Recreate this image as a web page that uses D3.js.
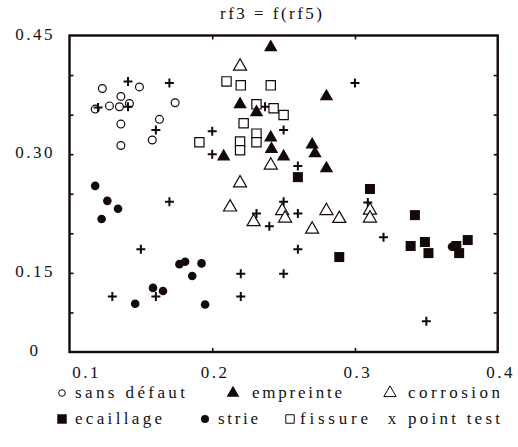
<!DOCTYPE html>
<html>
<head>
<meta charset="utf-8">
<script src="https://cdn.jsdelivr.net/npm/d3@7"></script>
<style>
  html, body { margin: 0; padding: 0; background: #fff; }
  svg text { font-family: "Liberation Serif", "DejaVu Serif", serif; fill: #111; }
</style>
</head>
<body>
<svg id="chart" width="518" height="447"></svg>
<script>
// ---- data ----
const title = "rf3 = f(rf5)";
const xTickValues = [0.1, 0.2, 0.3, 0.4];
const xTickLabels = ["0.1", "0.2", "0.3", "0.4"];
const yTickValues = [0.05, 0.15, 0.30, 0.45];
const yTickLabels = ["0", "0.15", "0.30", "0.45"];

const sansDefautX = [0.123, 0.149, 0.136, 0.142, 0.118, 0.128, 0.135, 0.174, 0.136, 0.163, 0.158, 0.136];
const sansDefautY = [0.383, 0.385, 0.373, 0.364, 0.357, 0.361, 0.360, 0.365, 0.338, 0.344, 0.318, 0.311];

const empreinteX = [0.241, 0.2195, 0.231, 0.241, 0.2415, 0.250, 0.208, 0.280, 0.270, 0.272, 0.280];
const empreinteY = [0.435, 0.363, 0.353, 0.321, 0.3065, 0.297, 0.297, 0.373, 0.312, 0.301, 0.282];

const corrosionX = [0.2195, 0.241, 0.2195, 0.2125, 0.229, 0.249, 0.251, 0.280, 0.289, 0.270, 0.3105, 0.3105];
const corrosionY = [0.411, 0.286, 0.2635, 0.233, 0.2145, 0.2285, 0.219, 0.2285, 0.2185, 0.205, 0.229, 0.219];

const ecaillageX = [0.260, 0.3105, 0.342, 0.339, 0.349, 0.3515, 0.371, 0.373, 0.379, 0.289];
const ecaillageY = [0.271, 0.256, 0.223, 0.184, 0.189, 0.175, 0.184, 0.175, 0.1915, 0.170];

const strieX = [0.118, 0.1265, 0.134, 0.1225, 0.177, 0.181, 0.1925, 0.186, 0.1585, 0.1655, 0.146, 0.195, 0.368];
const strieY = [0.260, 0.241, 0.231, 0.218, 0.161, 0.164, 0.162, 0.146, 0.131, 0.127, 0.111, 0.110, 0.183];

const fissureX = [0.210, 0.220, 0.241, 0.231, 0.243, 0.250, 0.222, 0.191, 0.2195, 0.2195, 0.231, 0.231];
const fissureY = [0.392, 0.387, 0.387, 0.363, 0.358, 0.3495, 0.339, 0.315, 0.316, 0.305, 0.326, 0.315];

const pointTestX = [0.141, 0.170, 0.120, 0.141, 0.1605, 0.200, 0.200, 0.237, 0.250, 0.260, 0.300, 0.170, 0.150, 0.130, 0.1605, 0.220, 0.220, 0.250, 0.250, 0.231, 0.240, 0.260, 0.260, 0.309, 0.320, 0.350];
const pointTestY = [0.392, 0.390, 0.359, 0.360, 0.3305, 0.329, 0.300, 0.360, 0.3305, 0.285, 0.390, 0.240, 0.180, 0.120, 0.120, 0.149, 0.120, 0.149, 0.240, 0.225, 0.209, 0.225, 0.180, 0.239, 0.195, 0.089];

const legendRow1 = ["sans défaut", "empreinte", "corrosion"];
const legendRow2 = ["ecaillage", "strie", "fissure", "point test"];

// ---- layout ----
const svg = d3.select("#chart");
const mLeft = 69.5, mRight = 497.7, mTop = 35.5, mBottom = 352;
const ink = "#140808";

const x = d3.scaleLinear().domain([0.1, 0.4]).range([mLeft, mRight]);
const y = d3.scaleLinear().domain([0.05, 0.45]).range([mBottom, mTop]);

// title
svg.append("text")
  .attr("x", 271).attr("y", 19)
  .attr("text-anchor", "middle")
  .attr("font-size", 17)
  .attr("textLength", 102).attr("lengthAdjust", "spacing")
  .text(title);

// inward ticks via axes
const innerX = [0.2, 0.3];
const innerY = [0.10, 0.15, 0.20, 0.25, 0.30, 0.35, 0.40];
const axB = svg.append("g").attr("transform", `translate(0,${mBottom})`)
  .call(d3.axisBottom(x).tickValues(innerX).tickSize(-4).tickSizeOuter(0).tickFormat(""));
const axT = svg.append("g").attr("transform", `translate(0,${mTop})`)
  .call(d3.axisTop(x).tickValues(innerX).tickSize(-4).tickSizeOuter(0).tickFormat(""));
const axL = svg.append("g").attr("transform", `translate(${mLeft},0)`)
  .call(d3.axisLeft(y).tickValues(innerY).tickSize(-4).tickSizeOuter(0).tickFormat(""));
const axR = svg.append("g").attr("transform", `translate(${mRight},0)`)
  .call(d3.axisRight(y).tickValues(innerY).tickSize(-4).tickSizeOuter(0).tickFormat(""));
[axB, axT, axL, axR].forEach(g => {
  g.select(".domain").remove();
  g.selectAll(".tick line").attr("stroke", ink).attr("stroke-width", 1.6);
});

// frame
svg.append("rect")
  .attr("x", x(0.1)).attr("y", y(0.45))
  .attr("width", x(0.4) - x(0.1)).attr("height", y(0.05) - y(0.45))
  .attr("fill", "none").attr("stroke", ink).attr("stroke-width", 2.4);

// tick labels
svg.append("g").selectAll("text").data(xTickValues).join("text")
  .attr("x", (d, i) => x(d) + (i === 0 ? 17 : 3))
  .attr("y", 378)
  .attr("text-anchor", "middle")
  .attr("font-size", 17)
  .attr("letter-spacing", 2.5)
  .text((d, i) => xTickLabels[i]);

svg.append("g").selectAll("text").data(yTickValues).join("text")
  .attr("x", 35)
  .attr("y", d => y(d) + 4)
  .attr("text-anchor", "middle")
  .attr("font-size", 17)
  .attr("letter-spacing", 2.5)
  .text((d, i) => yTickLabels[i]);

// ---- marks ----
const plot = svg.append("g");
function pts(xs, ys) { return xs.map((v, i) => ({x: v, y: ys[i]})); }
const triPath = d3.symbol().type(d3.symbolTriangle).size(78)();
const sqPath = d3.symbol().type(d3.symbolSquare).size(100)();
const sqOpenPath = d3.symbol().type(d3.symbolSquare).size(86)();
const triOpenPath = d3.symbol().type(d3.symbolTriangle).size(74)();

// sans défaut
plot.append("g").selectAll("circle").data(pts(sansDefautX, sansDefautY)).join("circle")
  .attr("cx", d => x(d.x)).attr("cy", d => y(d.y)).attr("r", 3.9)
  .attr("fill", "#fff").attr("stroke", ink).attr("stroke-width", 1.2);

// point test
plot.append("g").selectAll("path").data(pts(pointTestX, pointTestY)).join("path")
  .attr("d", d => { const cx = x(d.x), cy = y(d.y), h = 4.5;
    return `M${cx - h},${cy}H${cx + h}M${cx},${cy - h}V${cy + h}`; })
  .attr("stroke", ink).attr("stroke-width", 2).attr("fill", "none");

// fissure
plot.append("g").selectAll("path").data(pts(fissureX, fissureY)).join("path")
  .attr("transform", d => `translate(${x(d.x)},${y(d.y)})`)
  .attr("d", sqOpenPath)
  .attr("fill", "#fff").attr("stroke", ink).attr("stroke-width", 1.2);

// empreinte
plot.append("g").selectAll("path").data(pts(empreinteX, empreinteY)).join("path")
  .attr("transform", d => `translate(${x(d.x)},${y(d.y)})`)
  .attr("d", triPath).attr("fill", ink);

// corrosion
plot.append("g").selectAll("path").data(pts(corrosionX, corrosionY)).join("path")
  .attr("transform", d => `translate(${x(d.x)},${y(d.y)})`)
  .attr("d", triOpenPath)
  .attr("fill", "#fff").attr("stroke", ink).attr("stroke-width", 1.2);

// ecaillage
plot.append("g").selectAll("path").data(pts(ecaillageX, ecaillageY)).join("path")
  .attr("transform", d => `translate(${x(d.x)},${y(d.y)})`)
  .attr("d", sqPath).attr("fill", ink);

// strie
plot.append("g").selectAll("circle").data(pts(strieX, strieY)).join("circle")
  .attr("cx", d => x(d.x)).attr("cy", d => y(d.y)).attr("r", 4.3)
  .attr("fill", ink);

// ---- legend ----
const lg = svg.append("g");
const row1Y = 398, row2Y = 424;
function ltext(str, tx, ty, w) {
  lg.append("text").attr("x", tx).attr("y", ty).attr("font-size", 17)
    .attr("textLength", w).attr("lengthAdjust", "spacing").text(str);
}
// row 1
lg.append("circle").attr("cx", 62).attr("cy", row1Y - 5).attr("r", 3.3)
  .attr("fill", "#fff").attr("stroke", ink).attr("stroke-width", 1);
ltext(legendRow1[0], 75, row1Y, 110);
lg.append("path").attr("transform", `translate(233,${row1Y - 5})`)
  .attr("d", d3.symbol().type(d3.symbolTriangle).size(70)()).attr("fill", ink);
ltext(legendRow1[1], 252, row1Y, 90);
lg.append("path").attr("transform", `translate(390,${row1Y - 5})`)
  .attr("d", d3.symbol().type(d3.symbolTriangle).size(66)())
  .attr("fill", "#fff").attr("stroke", ink).attr("stroke-width", 1);
ltext(legendRow1[2], 408, row1Y, 92);
// row 2
lg.append("path").attr("transform", `translate(62,${row2Y - 5})`)
  .attr("d", d3.symbol().type(d3.symbolSquare).size(90)()).attr("fill", ink);
ltext(legendRow2[0], 75, row2Y, 87);
lg.append("circle").attr("cx", 205).attr("cy", row2Y - 5).attr("r", 4)
  .attr("fill", ink);
ltext(legendRow2[1], 218, row2Y, 40);
lg.append("path").attr("transform", `translate(290,${row2Y - 5})`)
  .attr("d", d3.symbol().type(d3.symbolSquare).size(72)())
  .attr("fill", "#fff").attr("stroke", ink).attr("stroke-width", 1);
ltext(legendRow2[2], 300, row2Y, 68);
lg.append("text").attr("x", 392).attr("y", row2Y).attr("font-size", 17)
  .attr("text-anchor", "middle").text("x");
ltext(legendRow2[3], 408, row2Y, 92);
</script>
</body>
</html>
